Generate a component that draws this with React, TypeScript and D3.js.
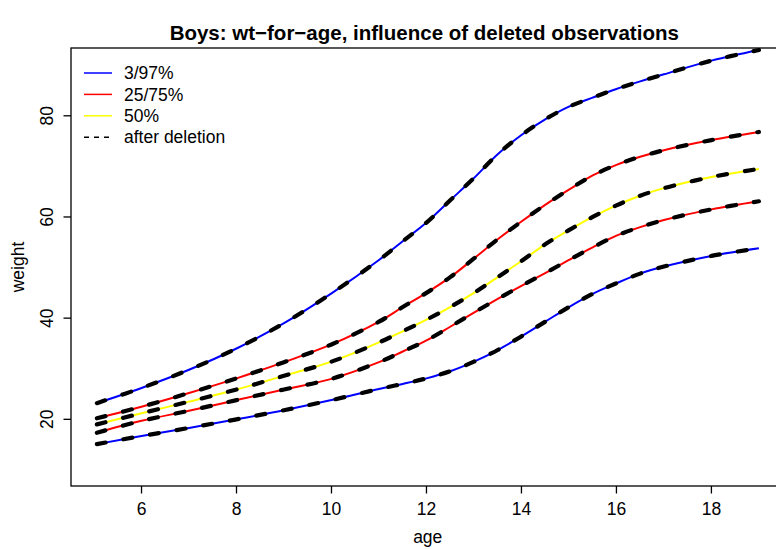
import React from "react";
import * as d3 from "d3";

const AGES = [5.06, 6, 7, 8, 9, 10, 11, 11.5, 12, 12.5, 13, 13.5, 14, 14.5, 15, 15.5, 16, 16.5, 17, 18, 19];
const P97 = [23.2, 26.2, 29.8, 34.0, 39.0, 44.9, 51.5, 55.2, 58.9, 63.3, 67.7, 72.4, 76.2, 79.3, 81.8, 83.6, 85.3, 86.8, 88.2, 90.9, 93.0];
const P75 = [20.2, 22.5, 25.2, 28.1, 31.3, 34.8, 39.3, 42.2, 45.0, 48.1, 51.8, 55.6, 59.1, 62.4, 65.4, 68.2, 70.3, 71.9, 73.2, 75.2, 76.8];
const P50 = [19.0, 21.2, 23.5, 25.9, 28.6, 31.4, 35.2, 37.4, 39.7, 42.2, 45.0, 48.1, 51.3, 54.6, 57.4, 60.0, 62.3, 64.2, 65.7, 67.9, 69.5];
const P25 = [17.35, 19.7, 21.7, 23.8, 25.9, 28.0, 31.3, 33.4, 35.6, 38.3, 41.1, 43.8, 46.4, 48.9, 51.5, 54.0, 56.3, 58.0, 59.4, 61.5, 63.1];
const P3 = [15.1, 16.7, 18.3, 20.0, 21.8, 23.8, 26.0, 27.0, 28.1, 29.5, 31.4, 33.7, 36.4, 39.3, 42.2, 44.8, 46.9, 48.8, 50.2, 52.3, 53.8];

const X_TICKS = [6, 8, 10, 12, 14, 16, 18];
const Y_TICKS = [20, 40, 60, 80];

const SERIES = [
  { values: P3, color: "#0000ff" },
  { values: P97, color: "#0000ff" },
  { values: P25, color: "#ff0000" },
  { values: P75, color: "#ff0000" },
  { values: P50, color: "#ffff00" },
];

const LEGEND = [
  { label: "3/97%", color: "#0000ff", dashed: false },
  { label: "25/75%", color: "#ff0000", dashed: false },
  { label: "50%", color: "#ffff00", dashed: false },
  { label: "after deletion", color: "#000000", dashed: true },
];

const W = 776;
const H = 549;
const box = { left: 71, right: 785.5, top: 48, bottom: 486 };
const FONT = "'Liberation Sans', Arial, Helvetica, sans-serif";

export default function App() {
  const x = d3.scaleLinear().domain([4.515, 19.56]).range([box.left, box.right]);
  const y = d3.scaleLinear().domain([6.82, 93.4]).range([box.bottom, box.top]);

  const line = d3
    .line<[number, number]>()
    .x((d) => x(d[0]))
    .y((d) => y(d[1]))
    .curve(d3.curveCatmullRom.alpha(0.5));

  const paths = SERIES.map((s) => line(AGES.map((a, i) => [a, s.values[i]] as [number, number])) || "");

  const midY = (box.top + box.bottom) / 2;
  const midX = (box.left + box.right) / 2;

  return (
    <svg
      width={W}
      height={H}
      style={{ position: "absolute", left: 0, top: 0, background: "#fff" }}
      fontFamily={FONT}
    >
      <rect x={0} y={0} width={W} height={H} fill="#fff" />
      <defs>
        <clipPath id="plotclip">
          <rect x={box.left} y={box.top} width={box.right - box.left} height={box.bottom - box.top} />
        </clipPath>
      </defs>

      <text x={midX - 4} y={39.5} textAnchor="middle" fontSize={20.5} fontWeight="bold" fill="#000">
        Boys: wt−for−age, influence of deleted observations
      </text>

      <g clipPath="url(#plotclip)">
        {SERIES.map((s, i) => (
          <path key={"c" + i} d={paths[i]} fill="none" stroke={s.color} strokeWidth={2} />
        ))}
        {SERIES.map((s, i) => (
          <path
            key={"d" + i}
            d={paths[i]}
            fill="none"
            stroke="#000"
            strokeWidth={4.2}
            strokeDasharray="9 18"
            strokeLinecap="round"
          />
        ))}
      </g>

      <rect
        x={box.left}
        y={box.top}
        width={box.right - box.left}
        height={box.bottom - box.top}
        fill="none"
        stroke="#000"
        strokeWidth={1.3}
      />

      <g>
        {X_TICKS.map((t) => (
          <g key={"xt" + t}>
            <line x1={x(t)} x2={x(t)} y1={box.bottom} y2={box.bottom + 7.5} stroke="#000" strokeWidth={1.3} />
            <text x={x(t)} y={515} textAnchor="middle" fontSize={17.5} fill="#000">
              {t}
            </text>
          </g>
        ))}
        <text x={midX - 0.5} y={543} textAnchor="middle" fontSize={17.5} fill="#000">
          age
        </text>
      </g>

      <g>
        {Y_TICKS.map((t) => (
          <g key={"yt" + t}>
            <line x1={box.left - 7.5} x2={box.left} y1={y(t)} y2={y(t)} stroke="#000" strokeWidth={1.3} />
            <text
              transform={`translate(${53},${y(t)}) rotate(-90)`}
              textAnchor="middle"
              fontSize={17.5}
              fill="#000"
            >
              {t}
            </text>
          </g>
        ))}
        <text
          transform={`translate(${24},${midY}) rotate(-90)`}
          textAnchor="middle"
          fontSize={17.5}
          fill="#000"
        >
          weight
        </text>
      </g>

      <g>
        {LEGEND.map((l, i) => {
          const ly = 73 + i * 21.4;
          return (
            <g key={"lg" + i}>
              <line
                x1={84}
                x2={112}
                y1={ly}
                y2={ly}
                stroke={l.color}
                strokeWidth={1.5}
                strokeDasharray={l.dashed ? "5 5" : undefined}
              />
              <text x={124} y={ly} dy="0.35em" fontSize={17.5} fill="#000">
                {l.label}
              </text>
            </g>
          );
        })}
      </g>
    </svg>
  );
}
